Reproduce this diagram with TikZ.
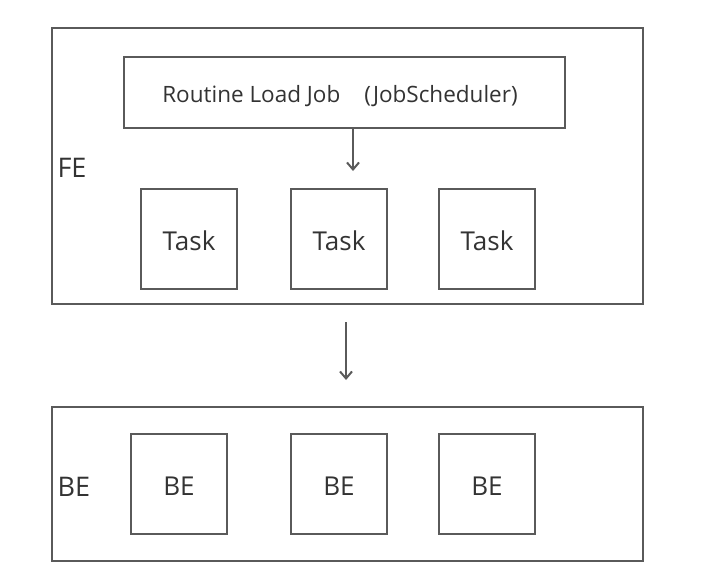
\documentclass[tikz,border=0pt]{standalone}
\usepackage{fontspec}
\setmainfont{Open Sans}
\usetikzlibrary{arrows.meta}
\definecolor{lc}{HTML}{5A5A5A}
\definecolor{tc}{HTML}{333333}
\begin{document}
\begin{tikzpicture}[x=1pt,y=-1pt,
  box/.style={draw=lc,line width=2pt,fill=white,inner sep=0pt},
  small/.style={box,minimum width=96pt,minimum height=100pt},
  inner/.style={text=tc,inner sep=0pt,font=\fontsize{26}{30}\selectfont},
  arr/.style={draw=lc,line width=2pt,-{Straight Barb[length=7pt,width=12pt,line width=2pt]}},
  lbl/.style={text=tc,inner sep=0pt,font=\fontsize{27}{30}\selectfont}]
\useasboundingbox (0,0) rectangle (721,586);
\node[box,minimum width=591pt,minimum height=276pt] (fe) at (347.5,166) {};
\node[box,minimum width=441pt,minimum height=71pt] (job) at (344.5,92.5) {};
\node[text=tc,inner sep=0pt,font=\fontsize{22.5}{26}\selectfont] (jobtxt) at (340,96) {Routine Load Job\hspace{24pt}(JobScheduler)};
\node[small] (t1) at (189,239) {};
\node[small] (t2) at (339,239) {};
\node[small] (t3) at (487,239) {};
\node[inner] (t1txt) at (189,241) {Task};
\node[inner] (t2txt) at (339,241) {Task};
\node[inner] (t3txt) at (487,241) {Task};
\node[lbl] (felbl) at (72,168) {FE};
\coordinate (a1s) at (353,128);
\coordinate (a1e) at (353,171);
\draw[arr] (a1s) -- (a1e);
\node[box,minimum width=591pt,minimum height=154pt] (be) at (347.5,484) {};
\node[small] (b1) at (179,484) {};
\node[small] (b2) at (339,484) {};
\node[small] (b3) at (487,484) {};
\node[inner] (b1txt) at (179,486) {BE};
\node[inner] (b2txt) at (339,486) {BE};
\node[inner] (b3txt) at (487,486) {BE};
\node[lbl] (belbl) at (74,487) {BE};
\coordinate (a2s) at (346,322);
\coordinate (a2e) at (346,380);
\draw[arr] (a2s) -- (a2e);
\end{tikzpicture}
\end{document}
